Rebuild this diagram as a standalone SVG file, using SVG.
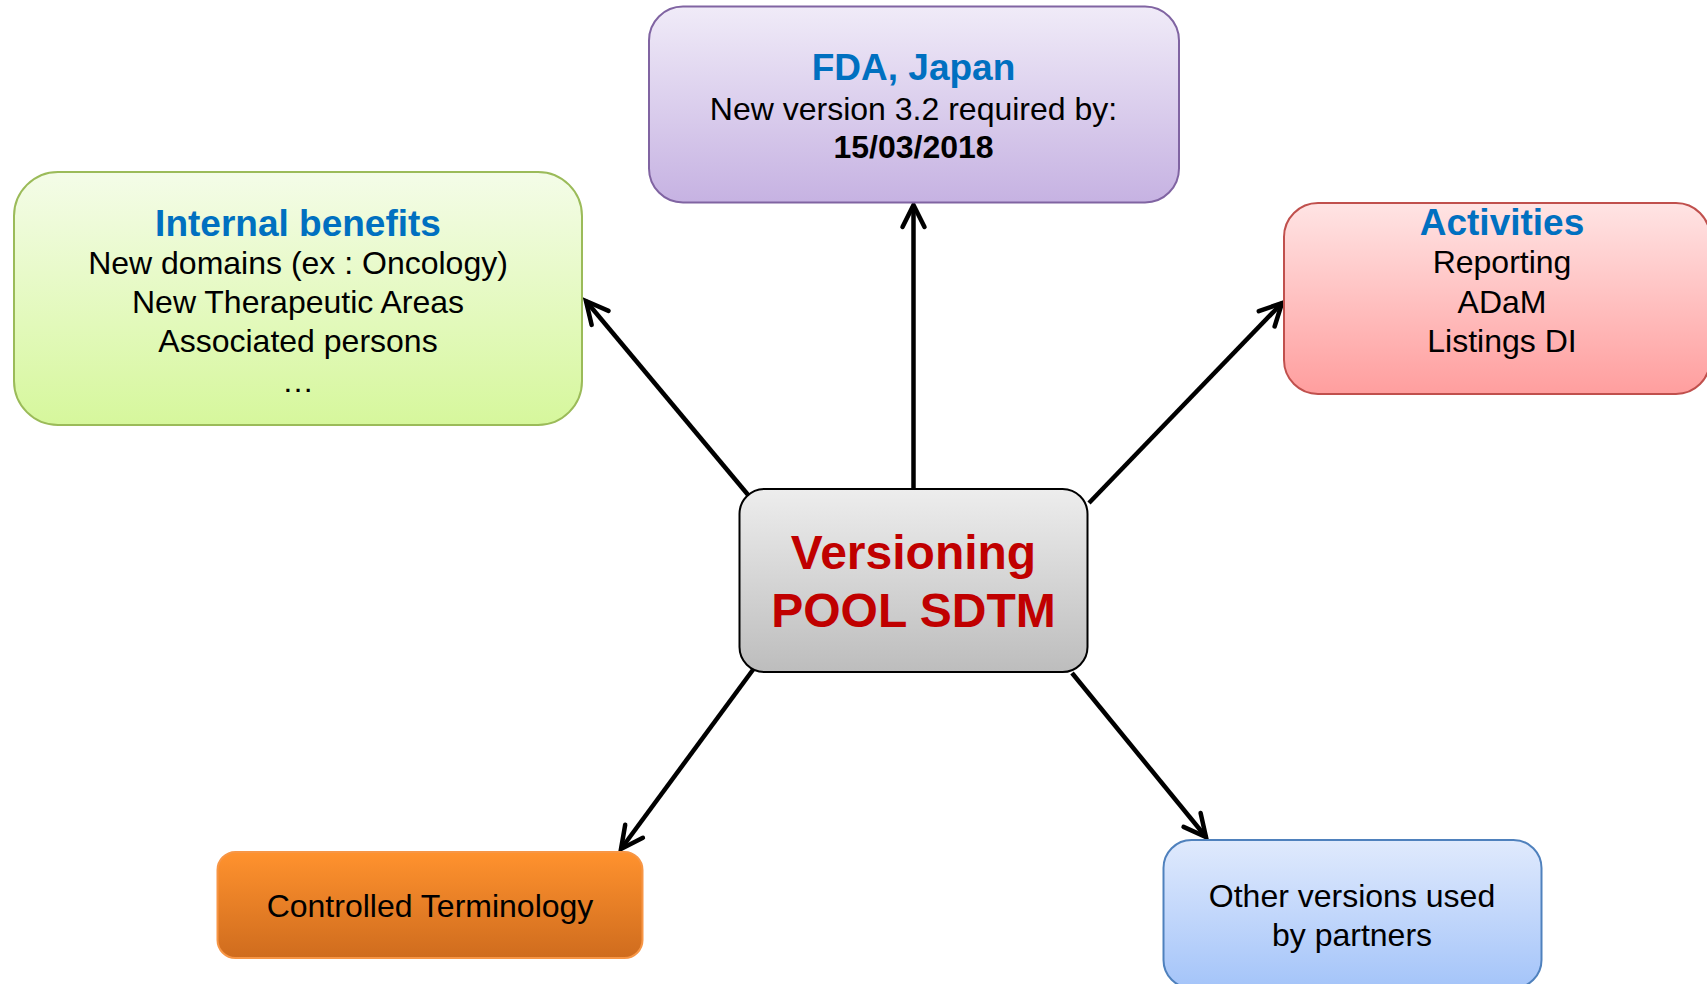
<svg xmlns="http://www.w3.org/2000/svg" width="1707" height="984" viewBox="0 0 1707 984">
<style>
text{font-family:"Liberation Sans",Arial,sans-serif;text-anchor:middle;fill:#000}
.t{font-weight:bold;fill:#0070C0;font-size:37px}
.b{font-size:32px}
.bb{font-size:32px;font-weight:bold}
.v{font-weight:bold;fill:#C00000;font-size:48px}
.c{fill:none;stroke:#000;stroke-width:4.5}
</style>
<defs>
<linearGradient id="gP" x1="0" y1="0" x2="0" y2="1"><stop offset="0" stop-color="#F0EBF8"/><stop offset="1" stop-color="#C6B2E2"/></linearGradient>
<linearGradient id="gG" x1="0" y1="0" x2="0" y2="1"><stop offset="0" stop-color="#F4FCE8"/><stop offset="1" stop-color="#D6F79C"/></linearGradient>
<linearGradient id="gR" x1="0" y1="0" x2="0" y2="1"><stop offset="0" stop-color="#FFE4E4"/><stop offset="1" stop-color="#FF9E9E"/></linearGradient>
<linearGradient id="gS" x1="0" y1="0" x2="0" y2="1"><stop offset="0" stop-color="#EDEDED"/><stop offset="1" stop-color="#BDBDBD"/></linearGradient>
<linearGradient id="gO" x1="0" y1="0" x2="0" y2="1"><stop offset="0" stop-color="#FF922E"/><stop offset="1" stop-color="#CF6C1E"/></linearGradient>
<linearGradient id="gB" x1="0" y1="0" x2="0" y2="1"><stop offset="0" stop-color="#E0EAFD"/><stop offset="1" stop-color="#A4C4F9"/></linearGradient>
<marker id="arr" markerUnits="userSpaceOnUse" markerWidth="40" markerHeight="40" viewBox="-30 -20 40 40" refX="0" refY="0" orient="auto" overflow="visible">
<path d="M-22,-11 L0,0 L-22,11" fill="none" stroke="#000" stroke-width="4.5" stroke-linecap="round" stroke-linejoin="miter"/>
</marker>
</defs>

<g id="connectors">
<line class="c" x1="913.5" y1="489" x2="913.5" y2="205" marker-end="url(#arr)"/>
<line class="c" x1="749" y1="496" x2="586" y2="301" marker-end="url(#arr)"/>
<line class="c" x1="1089" y1="503" x2="1282" y2="303" marker-end="url(#arr)"/>
<line class="c" x1="755" y1="667" x2="621" y2="849" marker-end="url(#arr)"/>
<line class="c" x1="1072" y1="673" x2="1206" y2="837" marker-end="url(#arr)"/>
</g>

<g id="fda">
<rect x="649" y="6.5" width="530" height="196" rx="34" fill="url(#gP)" stroke="#8064A2" stroke-width="2"/>
<text class="t" x="913.5" y="80">FDA, Japan</text>
<text class="b" x="913.5" y="120">New version 3.2 required by:</text>
<text class="bb" x="913.5" y="158">15/03/2018</text>
</g>

<g id="internal">
<rect x="14" y="172" width="568" height="253" rx="44" fill="url(#gG)" stroke="#9BBB59" stroke-width="2"/>
<text class="t" x="298" y="236">Internal benefits</text>
<text class="b" x="298" y="274">New domains (ex : Oncology)</text>
<text class="b" x="298" y="313">New Therapeutic Areas</text>
<text class="b" x="298" y="352">Associated persons</text>
<text class="b" x="298" y="392">…</text>
</g>

<g id="activities">
<rect x="1284" y="203" width="426" height="191" rx="34" fill="url(#gR)" stroke="#C0504D" stroke-width="2"/>
<text class="t" x="1502" y="235">Activities</text>
<text class="b" x="1502" y="273">Reporting</text>
<text class="b" x="1502" y="313">ADaM</text>
<text class="b" x="1502" y="352">Listings DI</text>
</g>

<g id="versioning">
<rect x="739.5" y="489" width="348" height="183" rx="25" fill="url(#gS)" stroke="#000" stroke-width="2"/>
<text class="v" x="913.5" y="569">Versioning</text>
<text class="v" x="913.5" y="627">POOL SDTM</text>
</g>

<g id="controlled">
<rect x="217.5" y="852" width="425" height="106" rx="18" fill="url(#gO)" stroke="#F79646" stroke-width="2"/>
<text class="b" x="430" y="917">Controlled Terminology</text>
</g>

<g id="other">
<rect x="1163.5" y="840" width="378" height="148" rx="28" fill="url(#gB)" stroke="#4F81BD" stroke-width="2"/>
<text class="b" x="1352" y="907">Other versions used</text>
<text class="b" x="1352" y="946">by partners</text>
</g>
</svg>
